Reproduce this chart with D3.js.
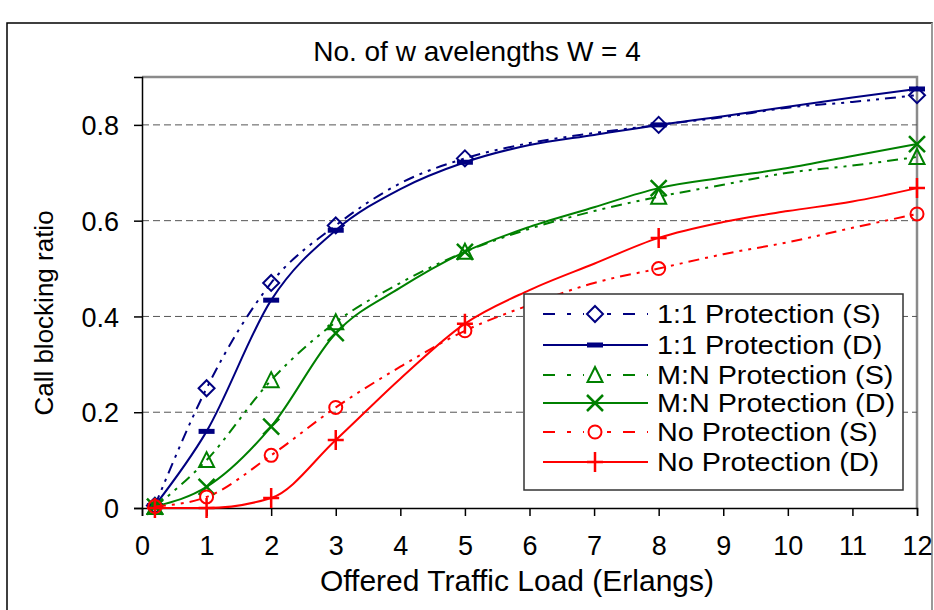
<!DOCTYPE html>
<html>
<head>
<meta charset="utf-8">
<script src="https://cdn.jsdelivr.net/npm/d3@7"></script>
<style>
  body { margin: 0; background: #fff; }
  text { font-family: "Liberation Sans", Arial, sans-serif; fill: #000; }
</style>
</head>
<body>
<div id="vis-svg"></div>
<script>
var w = 934;
var h = 610;

// offered load (Erlangs) for every point, markers only on some of them
var loads = [0.2, 1, 2, 3, 4, 5, 6, 7, 8, 9, 10, 11, 12];
var markerLoads = [0.2, 1, 2, 3, 5, 8, 12];
var xTicks = [0, 1, 2, 3, 4, 5, 6, 7, 8, 9, 10, 11, 12];
var yTicks = [0, 0.2, 0.4, 0.6, 0.8];

var oneS = [0.005, 0.25, 0.47, 0.59, 0.678, 0.73, 0.762, 0.783, 0.80, 0.816, 0.836, 0.848, 0.862];
var oneD = [0.005, 0.16, 0.434, 0.58, 0.666, 0.722, 0.758, 0.779, 0.80, 0.818, 0.838, 0.857, 0.875];
var mnS  = [0.002, 0.10, 0.267, 0.388, 0.47, 0.535, 0.583, 0.62, 0.65, 0.675, 0.70, 0.715, 0.733];
var mnD  = [0.003, 0.044, 0.17, 0.365, 0.46, 0.535, 0.587, 0.628, 0.668, 0.69, 0.71, 0.735, 0.76];
var noS  = [0.003, 0.023, 0.11, 0.21, 0.295, 0.37, 0.424, 0.47, 0.50, 0.53, 0.555, 0.585, 0.614];
var noD  = [0.0, 0.0, 0.021, 0.142, 0.27, 0.385, 0.455, 0.51, 0.564, 0.597, 0.62, 0.64, 0.668];

var names = ["1:1 Protection (S)", "1:1 Protection (D)", "M:N Protection (S)",
             "M:N Protection (D)", "No Protection (S)", "No Protection (D)"];
var values = [oneS, oneD, mnS, mnD, noS, noD];
var colors = ["#000080", "#000080", "#008000", "#008000", "#ff0000", "#ff0000"];
var symbols = ["diamond", "bar", "triangle", "cross", "circle", "plus"];
var dashed = [true, false, true, false, true, false];

var margin = {left: 142, right: 17, top: 77, bottom: 102};

var canvas = d3.select("#vis-svg").append("svg")
    .attr("width", w)
    .attr("height", h);

// outer chart frame
canvas.append("rect")
    .attr("x", 7).attr("y", 23)
    .attr("width", 925).attr("height", 620)
    .attr("fill", "none").attr("stroke", "#000").attr("stroke-width", 1.5);
canvas.append("line")
    .attr("x1", 932).attr("x2", 932).attr("y1", 23).attr("y2", h)
    .attr("stroke", "#999").attr("stroke-width", 2);

var x = d3.scaleLinear().domain([0, 12]).range([margin.left, w - margin.right]);
var y = d3.scaleLinear().domain([0, 0.9]).range([h - margin.bottom, margin.top]);

// plot box (grey top/right)
canvas.append("path")
    .attr("d", "M" + x(0) + "," + y(0.9) + "H" + x(12) + "V" + y(0))
    .attr("fill", "none").attr("stroke", "#8a8a8a").attr("stroke-width", 2.5);

// grid lines
canvas.selectAll(".grid")
    .data(yTicks.filter(d => d > 0))
    .enter().append("line")
    .attr("class", "grid")
    .attr("x1", x(0)).attr("x2", x(12))
    .attr("y1", d => y(d)).attr("y2", d => y(d))
    .attr("stroke", "#555").attr("stroke-width", 1)
    .attr("stroke-dasharray", "7,4");

// axes
var yAxis = canvas.append("g")
    .attr("transform", "translate(" + x(0) + ",0)")
    .call(d3.axisLeft(y).tickValues(yTicks).tickSize(8).tickPadding(15)
        .tickFormat(d => d === 0 ? "0" : d3.format(".1f")(d)));
var xAxis = canvas.append("g")
    .attr("transform", "translate(0," + y(0) + ")")
    .call(d3.axisBottom(x).tickValues(xTicks).tickSize(8).tickPadding(20));

[xAxis, yAxis].forEach(function(a) {
    a.select(".domain").attr("stroke", "#000").attr("stroke-width", 1.5);
    a.selectAll(".tick line").attr("stroke", "#000").attr("stroke-width", 1.5);
    a.selectAll("text").style("font-size", "27px")
        .style("font-family", '"Liberation Sans", Arial, sans-serif').attr("fill", "#000");
});
yAxis.selectAll("text").attr("dy", "0.36em");

// titles
canvas.append("text")
    .attr("x", 477).attr("y", 61)
    .attr("text-anchor", "middle")
    .style("font-size", "28px")
    .text("No. of w avelengths W = 4");

canvas.append("text")
    .attr("transform", "translate(53,313) rotate(-90)")
    .attr("text-anchor", "middle")
    .style("font-size", "26px")
    .text("Call blocking ratio");

canvas.append("text")
    .attr("x", 517).attr("y", 591)
    .attr("text-anchor", "middle")
    .style("font-size", "30px")
    .text("Offered Traffic Load (Erlangs)");

function drawMarker(g, type, color) {
    if (type == "diamond") {
        g.append("path").attr("d", "M0,-8L8,0L0,8L-8,0Z")
            .attr("fill", "none").attr("stroke", color).attr("stroke-width", 2);
    } else if (type == "bar") {
        g.append("rect").attr("x", -8).attr("y", -2.5).attr("width", 16).attr("height", 5)
            .attr("fill", color);
    } else if (type == "triangle") {
        g.append("path").attr("d", "M0,-8L7.5,7L-7.5,7Z")
            .attr("fill", "none").attr("stroke", color).attr("stroke-width", 2);
    } else if (type == "cross") {
        g.append("path").attr("d", "M-8,-8L8,8M-8,8L8,-8")
            .attr("stroke", color).attr("stroke-width", 2.5);
    } else if (type == "circle") {
        g.append("circle").attr("r", 6.5)
            .attr("fill", "none").attr("stroke", color).attr("stroke-width", 2);
    } else if (type == "plus") {
        g.append("path").attr("d", "M-8,0H8M0,-10V10")
            .attr("stroke", color).attr("stroke-width", 2.5);
    }
}

var line = d3.line()
    .x(d => x(d[0]))
    .y(d => y(d[1]))
    .curve(d3.curveMonotoneX);

for (var i = 0; i < names.length; i++) {
    var pts = loads.map((l, j) => [l, values[i][j]]);
    canvas.append("path")
        .attr("d", line(pts))
        .attr("fill", "none")
        .attr("stroke", colors[i])
        .attr("stroke-width", 2)
        .attr("stroke-dasharray", dashed[i] ? "11,6,3,6,3,6" : null);
    var marks = pts.filter(p => markerLoads.indexOf(p[0]) > -1);
    for (var k = 0; k < marks.length; k++) {
        var mg = canvas.append("g")
            .attr("transform", "translate(" + x(marks[k][0]) + "," + y(marks[k][1]) + ")");
        drawMarker(mg, symbols[i], colors[i]);
    }
}

// legend
var legend = canvas.append("g");
legend.append("rect")
    .attr("x", 524).attr("y", 294).attr("width", 379).attr("height", 196)
    .attr("fill", "#fff").attr("stroke", "#333").attr("stroke-width", 1.5);

var rowY = [314, 345, 375, 403, 432, 462];
for (var i = 0; i < names.length; i++) {
    legend.append("line")
        .attr("x1", 543).attr("x2", 648)
        .attr("y1", rowY[i]).attr("y2", rowY[i])
        .attr("stroke", colors[i]).attr("stroke-width", 2)
        .attr("stroke-dasharray", dashed[i] ? "12,12,4,12" : null);
    if (symbols[i] != "bar" && symbols[i] != "plus" && symbols[i] != "cross") {
        legend.append("rect").attr("x", 584).attr("y", rowY[i] - 10)
            .attr("width", 22).attr("height", 20).attr("fill", "#fff");
    }
    var lg = legend.append("g").attr("transform", "translate(595," + rowY[i] + ")");
    drawMarker(lg, symbols[i], colors[i]);
    legend.append("text")
        .attr("transform", "translate(657," + (rowY[i] + 9) + ") scale(1.15,1)")
        .style("font-size", "25px")
        .text(names[i]);
}
</script>
</body>
</html>
